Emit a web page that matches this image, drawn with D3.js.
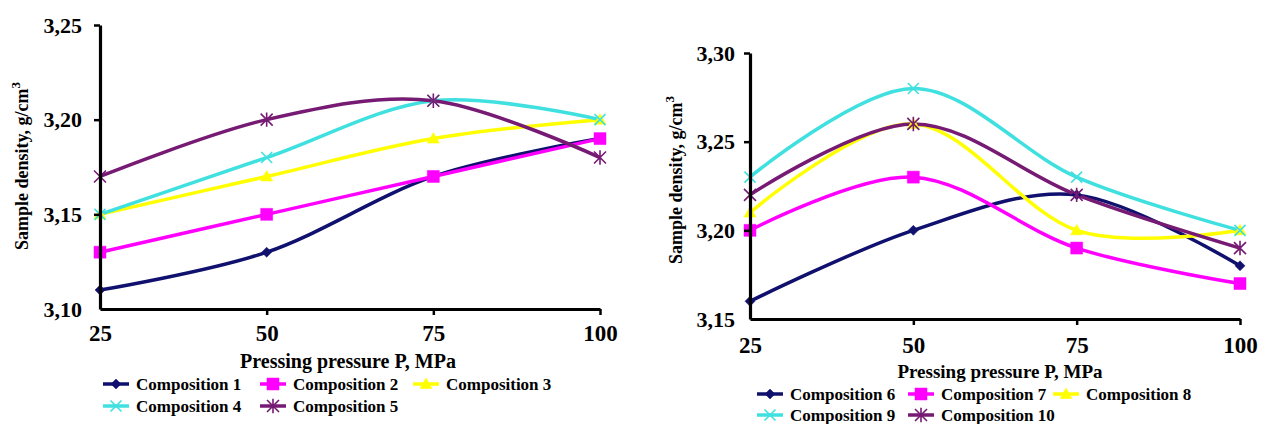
<!DOCTYPE html>
<html><head><meta charset="utf-8">
<script src="https://cdn.jsdelivr.net/npm/d3@7"></script>
<style>
html,body{margin:0;padding:0;background:#fff;}
svg{display:block;}
text{font-family:"Liberation Serif","Times New Roman",serif;font-weight:bold;fill:#000;}
</style></head><body>
<svg id="chart" width="1268" height="424"></svg>
<script>
// ---------- data ----------
const pressure = [25, 50, 75, 100];
const xTickValues = [25, 50, 75, 100];
const leftYTicks = [3.10, 3.15, 3.20, 3.25];
const rightYTicks = [3.15, 3.20, 3.25, 3.30];
const xTitle = "Pressing pressure P, MPa";
const yTitle = "Sample density, g/cm";
const yTitleSup = "3";

const leftNames = ["Composition 1", "Composition 2", "Composition 3", "Composition 4", "Composition 5"];
const composition1 = [3.11, 3.13, 3.17, 3.19];
const composition2 = [3.13, 3.15, 3.17, 3.19];
const composition3 = [3.15, 3.17, 3.19, 3.20];
const composition4 = [3.15, 3.18, 3.21, 3.20];
const composition5 = [3.17, 3.20, 3.21, 3.18];

const rightNames = ["Composition 6", "Composition 7", "Composition 8", "Composition 9", "Composition 10"];
const composition6 = [3.16, 3.20, 3.22, 3.18];
const composition7 = [3.20, 3.23, 3.19, 3.17];
const composition8 = [3.21, 3.26, 3.20, 3.20];
const composition9 = [3.23, 3.28, 3.23, 3.20];
const composition10 = [3.22, 3.26, 3.22, 3.19];

const seriesColors = ["#10106e", "#ff00ff", "#ffff00", "#40e0e0", "#761a74"];
const markerKinds = ["diamond", "square", "triangle", "x", "asterisk"];

// ---------- helpers ----------
const locale = d3.formatLocale({decimal: ",", thousands: " ", grouping: [3], currency: ["", ""]});
const fmtY = locale.format(".2f");

const shapes = {
  diamond: {draw(c, s){ const r = s; c.moveTo(0,-r); c.lineTo(r,0); c.lineTo(0,r); c.lineTo(-r,0); c.closePath(); }},
  square: {draw(c, s){ c.rect(-s,-s,2*s,2*s); }},
  triangle: {draw(c, s){ c.moveTo(0,-s); c.lineTo(s,s*0.75); c.lineTo(-s,s*0.75); c.closePath(); }},
  x: {draw(c, s){ c.moveTo(-s,-s); c.lineTo(s,s); c.moveTo(-s,s); c.lineTo(s,-s); }},
  asterisk: {draw(c, s){ c.moveTo(-s,-s); c.lineTo(s,s); c.moveTo(-s,s); c.lineTo(s,-s); c.moveTo(0,-s*1.2); c.lineTo(0,s*1.2); }}
};
const markerSize = {diamond: 5, square: 6, triangle: 6, x: 5.5, asterisk: 6};
const filled = {diamond: true, square: true, triangle: true, x: false, asterisk: false};

function drawMarker(g, kind, color, cx, cy) {
  const p = d3.symbol().type(shapes[kind]).size(markerSize[kind])();
  g.append("path").attr("d", p)
    .attr("transform", `translate(${cx},${cy})`)
    .attr("fill", filled[kind] ? color : "none")
    .attr("stroke", color)
    .attr("stroke-width", filled[kind] ? 0.5 : 1.6);
}

const svg = d3.select("#chart");

function drawPanel(cfg) {
  const g = svg.append("g");
  const x = d3.scaleLinear().domain(d3.extent(xTickValues)).range(cfg.xRange);
  const y = d3.scaleLinear().domain(d3.extent(cfg.yTicks)).range(cfg.yRange);

  // series lines
  const line = d3.line()
    .x((d, i) => x(pressure[i]))
    .y(d => y(d))
    .curve(d3.curveCardinal.tension(0));

  cfg.series.forEach((vals, si) => {
    g.append("path").datum(vals)
      .attr("d", line)
      .attr("fill", "none")
      .attr("stroke", seriesColors[si])
      .attr("stroke-width", 3.5);
  });
  cfg.series.forEach((vals, si) => {
    vals.forEach((v, i) => drawMarker(g, markerKinds[si], seriesColors[si], x(pressure[i]), y(v)));
  });

  // axes
  const yAxis = g.append("g")
    .attr("transform", `translate(${cfg.xRange[0]},0)`)
    .call(d3.axisLeft(y).tickValues(cfg.yTicks).tickFormat(fmtY).tickSize(6).tickSizeOuter(0).tickPadding(cfg.yPad));
  const xAxis = g.append("g")
    .attr("transform", `translate(0,${cfg.yRange[0]})`)
    .call(d3.axisBottom(x).tickValues(xTickValues).tickFormat(d3.format("d")).tickSize(6).tickSizeOuter(0).tickPadding(cfg.xPad));

  [yAxis, xAxis].forEach(a => {
    a.select(".domain").attr("stroke", "#000").attr("stroke-width", 3.2);
    a.selectAll(".tick line").attr("stroke", "#000").attr("stroke-width", 2.5);
    a.selectAll(".tick text").attr("fill", "#000").style("font-family", '"Liberation Serif","Times New Roman",serif').style("font-weight", "bold");
  });
  yAxis.selectAll(".tick text").style("font-size", "22px");
  xAxis.selectAll(".tick text").style("font-size", "23px");
  yAxis.selectAll(".tick").filter((d, i) => i === 0).select("line").remove();
  xAxis.selectAll(".tick").filter((d, i) => i === 0).select("line").remove();

  // x title
  g.append("text")
    .attr("x", (cfg.xRange[0] + cfg.xRange[1]) / 2 + cfg.xTitleShift)
    .attr("y", cfg.xTitleY)
    .attr("text-anchor", "middle")
    .style("font-size", cfg.xTitleSize + "px")
    .text(xTitle);

  // y title
  const yt = g.append("text")
    .attr("transform", `translate(${cfg.yTitleX},${cfg.yTitleY}) rotate(-90)`)
    .attr("text-anchor", "middle")
    .style("font-size", "18px");
  yt.append("tspan").text(yTitle);
  yt.append("tspan").attr("dy", -8).style("font-size", "13px").text(yTitleSup);

  // legend
  cfg.names.forEach((name, si) => {
    const col = si % 3, row = Math.floor(si / 3);
    const lx = cfg.legendCols[col], ly = cfg.legendRows[row];
    const lg = g.append("g");
    lg.append("line").attr("x1", lx).attr("x2", lx + 26).attr("y1", ly).attr("y2", ly)
      .attr("stroke", seriesColors[si]).attr("stroke-width", 3.5);
    drawMarker(lg, markerKinds[si], seriesColors[si], lx + 13, ly);
    lg.append("text").attr("x", lx + 33).attr("y", ly + 6)
      .style("font-size", "17px").text(name);
  });
}

drawPanel({
  series: [composition1, composition2, composition3, composition4, composition5],
  names: leftNames,
  yTicks: leftYTicks,
  xRange: [100, 600], yRange: [309, 25],
  yPad: 12, xPad: 10,
  xTitleY: 368, xTitleSize: 20, xTitleShift: -2,
  yTitleX: 28, yTitleY: 166,
  legendCols: [103, 260, 413], legendRows: [384, 406]
});

drawPanel({
  series: [composition6, composition7, composition8, composition9, composition10],
  names: rightNames,
  yTicks: rightYTicks,
  xRange: [750, 1240], yRange: [319, 53],
  yPad: 9, xPad: 12,
  xTitleY: 378, xTitleSize: 19, xTitleShift: 5,
  yTitleX: 682, yTitleY: 180,
  legendCols: [757, 908, 1053], legendRows: [394, 415]
});
</script>
</body></html>
